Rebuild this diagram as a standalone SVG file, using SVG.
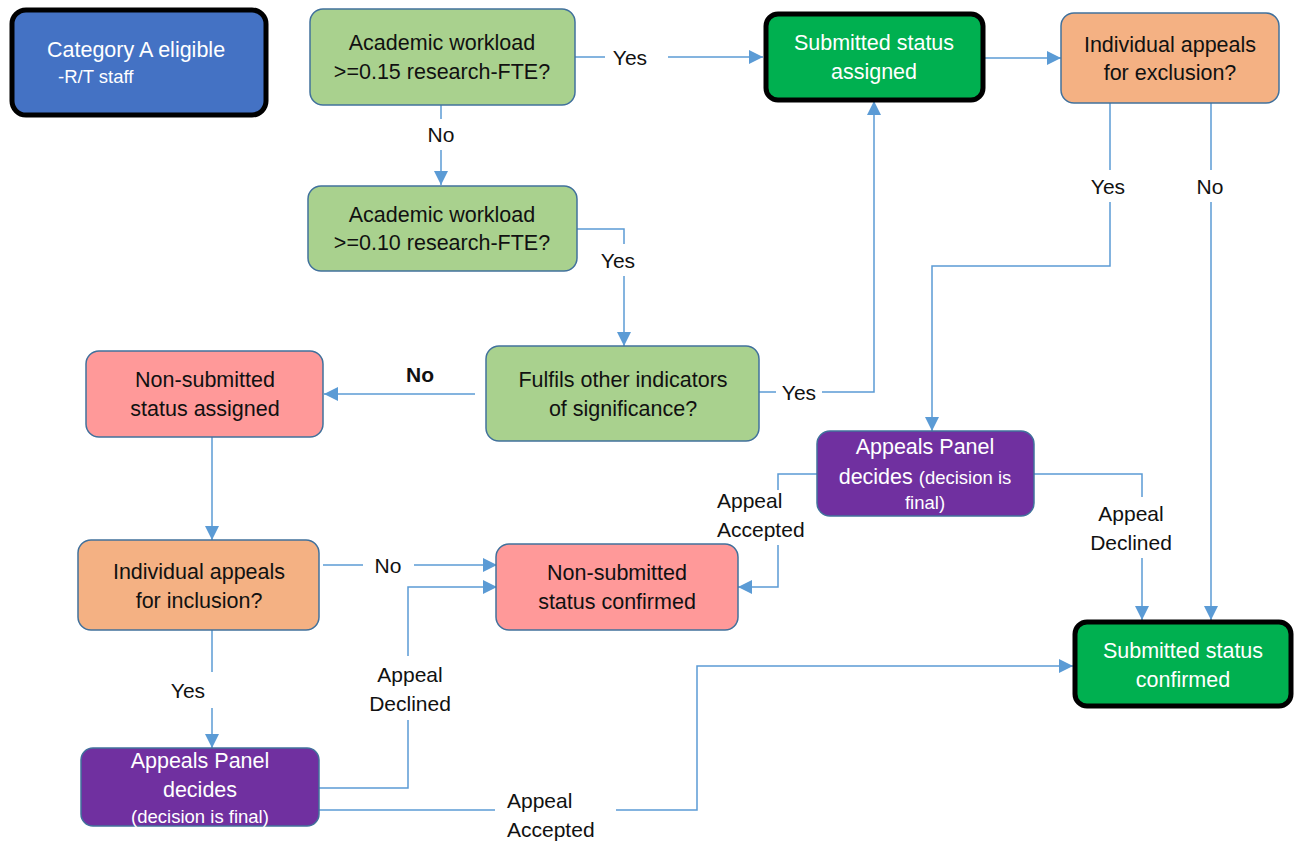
<svg xmlns="http://www.w3.org/2000/svg" width="1295" height="854" viewBox="0 0 1295 854">
<defs>
<marker id="ah" markerUnits="userSpaceOnUse" markerWidth="16" markerHeight="16" refX="14" refY="8" orient="auto">
<path d="M0,1 L14,8 L0,15 Z" fill="#5B9BD5"/>
</marker>
<style>
text{font-family:"Liberation Sans",Arial,sans-serif;font-size:21.5px;fill:#111;dominant-baseline:central}
.lb{font-size:21px}
.c{text-anchor:middle}
.w{fill:#fff}
.s{font-size:18.5px}
.b{font-weight:bold}
.n{stroke:#41719C;stroke-width:1.5}
.k{stroke:#000;stroke-width:5}
.l{fill:none;stroke:#5B9BD5;stroke-width:1.5}
</style>
</defs>
<rect width="1295" height="854" fill="#fff"/>
<g id="connectors">
<path class="l" d="M575,57 H605"/><path class="l" d="M668,57 H763" marker-end="url(#ah)"/>
<path class="l" d="M985,58 H1061" marker-end="url(#ah)"/>
<path class="l" d="M441,105 V119"/><path class="l" d="M441,150 V185" marker-end="url(#ah)"/>
<path class="l" d="M577,229 H624 V244"/><path class="l" d="M624,276 V346" marker-end="url(#ah)"/>
<path class="l" d="M759,392 H776"/><path class="l" d="M822,392 H874 V101" marker-end="url(#ah)"/>
<path class="l" d="M475,394 H324" marker-end="url(#ah)"/>
<path class="l" d="M212,437 V540" marker-end="url(#ah)"/>
<path class="l" d="M323,565 H363"/><path class="l" d="M414,565 H497" marker-end="url(#ah)"/>
<path class="l" d="M212,630 V672"/><path class="l" d="M212,708 V748" marker-end="url(#ah)"/>
<path class="l" d="M319,788 H408 V720"/><path class="l" d="M408,656 V587 H497" marker-end="url(#ah)"/>
<path class="l" d="M319,810 H495"/><path class="l" d="M616,810 H697 V666 H1073" marker-end="url(#ah)"/>
<path class="l" d="M1110,103 V170"/><path class="l" d="M1110,202 V266 H932 V431" marker-end="url(#ah)"/>
<path class="l" d="M1211,103 V170"/><path class="l" d="M1211,202 V620" marker-end="url(#ah)"/>
<path class="l" d="M817,474 H778 V490"/><path class="l" d="M778,545 V587 H738" marker-end="url(#ah)"/>
<path class="l" d="M1034,474 H1142 V497"/><path class="l" d="M1142,558 V620" marker-end="url(#ah)"/>
<text class="c lb" x="630" y="57">Yes</text>
<text class="c lb" x="441" y="134">No</text>
<text class="c lb" x="618" y="260">Yes</text>
<text class="c lb" x="799" y="392">Yes</text>
<text class="c lb b" x="420" y="374">No</text>
<text class="c lb" x="388" y="565">No</text>
<text class="c lb" x="188" y="690">Yes</text>
<text class="c lb" x="410" y="674">Appeal</text>
<text class="c lb" x="410" y="703">Declined</text>
<text class="lb" x="507" y="800">Appeal</text>
<text class="lb" x="507" y="829">Accepted</text>
<text class="c lb" x="1108" y="186">Yes</text>
<text class="c lb" x="1210" y="186">No</text>
<text class="lb" x="717" y="500">Appeal</text>
<text class="lb" x="717" y="529">Accepted</text>
<text class="c lb" x="1131" y="513">Appeal</text>
<text class="c lb" x="1131" y="542">Declined</text>
</g>
<g id="catA">
<rect class="k" x="12" y="10" width="254" height="105" rx="14" fill="#4472C4"/>
<text class="w" x="47" y="50">Category A eligible</text>
<text class="w s" x="58" y="76">-R/T staff</text>
</g>
<g id="workload015">
<rect class="n" x="310" y="9" width="265" height="96" rx="13" fill="#A9D18E"/>
<text class="c" x="442" y="43">Academic workload</text>
<text class="c" x="442" y="72">&gt;=0.15 research-FTE?</text>
</g>
<g id="submittedAssigned">
<rect class="k" x="766" y="14" width="217" height="86" rx="12" fill="#00B050"/>
<text class="c w" x="874" y="43">Submitted status</text>
<text class="c w" x="874" y="72">assigned</text>
</g>
<g id="appealExclusion">
<rect class="n" x="1061" y="13" width="218" height="90" rx="13" fill="#F4B183"/>
<text class="c" x="1170" y="45">Individual appeals</text>
<text class="c" x="1170" y="73">for exclusion?</text>
</g>
<g id="workload010">
<rect class="n" x="308" y="186" width="269" height="85" rx="13" fill="#A9D18E"/>
<text class="c" x="442" y="215">Academic workload</text>
<text class="c" x="442" y="243">&gt;=0.10 research-FTE?</text>
</g>
<g id="indicators">
<rect class="n" x="486" y="346" width="273" height="95" rx="13" fill="#A9D18E"/>
<text class="c" x="623" y="380">Fulfils other indicators</text>
<text class="c" x="623" y="409">of significance?</text>
</g>
<g id="nonSubmittedAssigned">
<rect class="n" x="86" y="351" width="237" height="86" rx="13" fill="#FF9999"/>
<text class="c" x="205" y="380">Non-submitted</text>
<text class="c" x="205" y="409">status assigned</text>
</g>
<g id="appealInclusion">
<rect class="n" x="78" y="540" width="241" height="90" rx="13" fill="#F4B183"/>
<text class="c" x="199" y="572">Individual appeals</text>
<text class="c" x="199" y="601">for inclusion?</text>
</g>
<g id="nonSubmittedConfirmed">
<rect class="n" x="496" y="544" width="242" height="86" rx="13" fill="#FF9999"/>
<text class="c" x="617" y="573">Non-submitted</text>
<text class="c" x="617" y="602">status confirmed</text>
</g>
<g id="panelRight">
<rect class="n" x="817" y="431" width="217" height="85" rx="13" fill="#7030A0"/>
<text class="c w" x="925" y="447">Appeals Panel</text>
<text class="c w" x="925" y="477">decides <tspan class="s">(decision is</tspan></text>
<text class="c w s" x="925" y="502">final)</text>
</g>
<g id="panelLeft">
<rect class="n" x="81" y="748" width="238" height="78" rx="12" fill="#7030A0"/>
<text class="c w" x="200" y="761">Appeals Panel</text>
<text class="c w" x="200" y="790">decides</text>
<text class="c w s" x="200" y="816">(decision is final)</text>
</g>
<g id="submittedConfirmed">
<rect class="k" x="1075" y="622" width="216" height="84" rx="12" fill="#00B050"/>
<text class="c w" x="1183" y="651">Submitted status</text>
<text class="c w" x="1183" y="680">confirmed</text>
</g>
</svg>
